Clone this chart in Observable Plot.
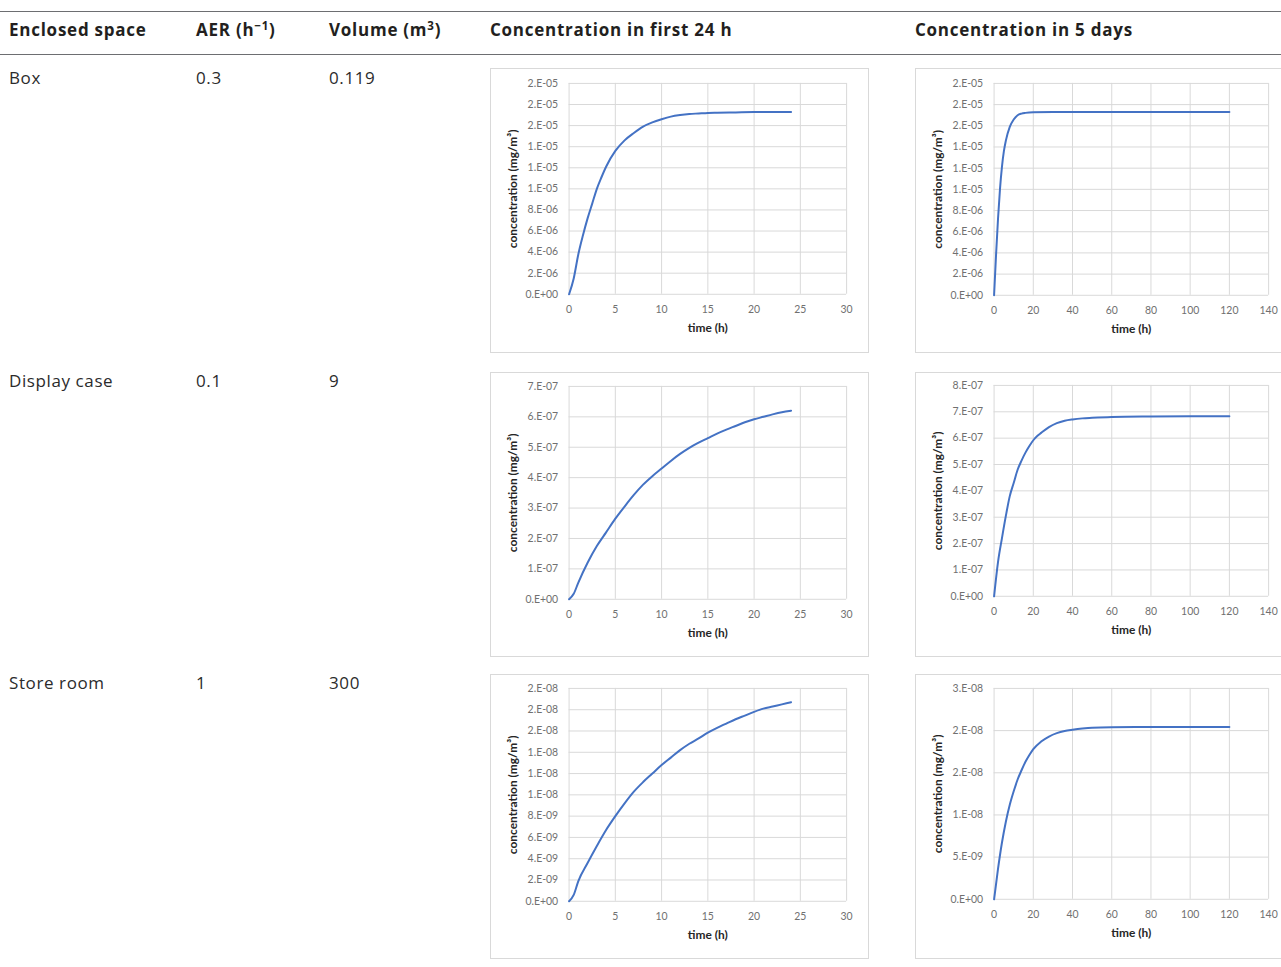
<!DOCTYPE html>
<html>
<head>
<meta charset="utf-8">
<script src="https://cdn.jsdelivr.net/npm/d3@7"></script>
<script src="https://cdn.jsdelivr.net/npm/@observablehq/plot@0.6"></script>
<style>
  html, body { margin: 0; padding: 0; background: #fff; }
  body { width: 1281px; height: 967px; overflow: hidden; position: relative; font-family: "Open Sans", sans-serif; color: #231f20; }
  .rule { position: absolute; left: 0; width: 1281px; height: 1px; background: #6d6e71; }
  .cell { position: absolute; font-size: 17px; line-height: 20px; white-space: nowrap; letter-spacing: 0.6px; color: #2b2b2b; }
  .hd { font-weight: bold; letter-spacing: 0.75px; color: #231f20; }
  sup { font-size: 0.68em; line-height: 0; vertical-align: 0.55em; }
  .chart { position: absolute; width: 377px; height: 283px; border: 1px solid #d9d9d9; overflow: visible; }
  .chart svg { position: absolute; left: -1px; top: -1px; overflow: visible; }
</style>
</head>
<body>
<div id="root"></div>
<script>
// ---------- table data ----------
const spaces = ["Box", "Display case", "Store room"];
const aer = ["0.3", "0.1", "1"];
const volume = ["0.119", "9", "300"];

// ---------- series data (time h, concentration mg/m3) ----------
// Box, first 24 h
const boxT24 = [0, 0.5, 1, 1.5, 2, 2.5, 3, 3.5, 4, 5, 6, 7, 8, 9, 10, 11, 12, 13, 14, 15, 16, 18, 20, 22, 24];
const boxC24 = [0, 1.5e-6, 3.8e-6, 5.6e-6, 7.2e-6, 8.6e-6, 1.0e-5, 1.11e-5, 1.21e-5, 1.36e-5, 1.46e-5, 1.53e-5, 1.59e-5, 1.63e-5, 1.66e-5, 1.685e-5, 1.70e-5, 1.71e-5, 1.715e-5, 1.72e-5, 1.722e-5, 1.725e-5, 1.728e-5, 1.73e-5, 1.73e-5];
// Box, 5 days
const boxT5 = [0, 1, 2, 3, 4, 5, 6, 8, 10, 12, 14, 16, 20, 30, 40, 60, 80, 100, 120];
const boxC5 = [0, 3.8e-6, 7.2e-6, 1.0e-5, 1.21e-5, 1.36e-5, 1.46e-5, 1.59e-5, 1.66e-5, 1.70e-5, 1.715e-5, 1.722e-5, 1.728e-5, 1.73e-5, 1.73e-5, 1.73e-5, 1.73e-5, 1.73e-5, 1.73e-5];
// Display case, first 24 h
const dispT24 = [0, 0.5, 1, 2, 3, 4, 5, 6, 7, 8, 9, 10, 11, 12, 13, 14, 15, 16, 17, 18, 19, 20, 21, 22, 23, 24];
const dispC24 = [0, 1.8e-8, 5.5e-8, 1.2e-7, 1.75e-7, 2.2e-7, 2.65e-7, 3.05e-7, 3.43e-7, 3.77e-7, 4.05e-7, 4.3e-7, 4.55e-7, 4.78e-7, 4.98e-7, 5.15e-7, 5.3e-7, 5.45e-7, 5.58e-7, 5.7e-7, 5.82e-7, 5.92e-7, 6.0e-7, 6.08e-7, 6.15e-7, 6.2e-7];
// Display case, 5 days
const dispT5 = [0, 2, 4, 6, 8, 10, 12, 14, 16, 18, 20, 22, 24, 28, 32, 36, 40, 45, 50, 60, 80, 100, 120];
const dispC5 = [0, 1.3e-7, 2.2e-7, 3.05e-7, 3.8e-7, 4.3e-7, 4.8e-7, 5.15e-7, 5.45e-7, 5.7e-7, 5.92e-7, 6.08e-7, 6.2e-7, 6.42e-7, 6.57e-7, 6.66e-7, 6.71e-7, 6.75e-7, 6.77e-7, 6.8e-7, 6.82e-7, 6.83e-7, 6.83e-7];
// Store room, first 24 h
const storeT24 = [0, 0.5, 1, 2, 3, 4, 5, 6, 7, 8, 9, 10, 11, 12, 13, 14, 15, 16, 17, 18, 19, 20, 21, 22, 23, 24];
const storeC24 = [0, 6e-10, 1.9e-9, 3.6e-9, 5.2e-9, 6.7e-9, 8.0e-9, 9.2e-9, 1.03e-8, 1.12e-8, 1.2e-8, 1.28e-8, 1.35e-8, 1.42e-8, 1.48e-8, 1.53e-8, 1.585e-8, 1.63e-8, 1.67e-8, 1.71e-8, 1.745e-8, 1.78e-8, 1.81e-8, 1.83e-8, 1.85e-8, 1.87e-8];
// Store room, 5 days
const storeT5 = [0, 2, 4, 6, 8, 10, 12, 14, 16, 18, 20, 24, 28, 32, 36, 40, 45, 50, 60, 80, 100, 120];
const storeC5 = [0, 3.6e-9, 6.7e-9, 9.2e-9, 1.12e-8, 1.28e-8, 1.42e-8, 1.53e-8, 1.63e-8, 1.71e-8, 1.78e-8, 1.87e-8, 1.93e-8, 1.97e-8, 1.995e-8, 2.01e-8, 2.025e-8, 2.035e-8, 2.04e-8, 2.042e-8, 2.042e-8, 2.042e-8];

// ---------- tick values and labels ----------
const xTicks24 = [0, 5, 10, 15, 20, 25, 30];
const xTicks5 = [0, 20, 40, 60, 80, 100, 120, 140];
const boxYTicks = [0, 2e-6, 4e-6, 6e-6, 8e-6, 1.0e-5, 1.2e-5, 1.4e-5, 1.6e-5, 1.8e-5, 2.0e-5];
const boxYLabels = ["0.E+00", "2.E-06", "4.E-06", "6.E-06", "8.E-06", "1.E-05", "1.E-05", "1.E-05", "2.E-05", "2.E-05", "2.E-05"];
const disp24YTicks = [0, 1e-7, 2e-7, 3e-7, 4e-7, 5e-7, 6e-7, 7e-7];
const disp24YLabels = ["0.E+00", "1.E-07", "2.E-07", "3.E-07", "4.E-07", "5.E-07", "6.E-07", "7.E-07"];
const disp5YTicks = [0, 1e-7, 2e-7, 3e-7, 4e-7, 5e-7, 6e-7, 7e-7, 8e-7];
const disp5YLabels = ["0.E+00", "1.E-07", "2.E-07", "3.E-07", "4.E-07", "5.E-07", "6.E-07", "7.E-07", "8.E-07"];
const store24YTicks = [0, 2e-9, 4e-9, 6e-9, 8e-9, 1.0e-8, 1.2e-8, 1.4e-8, 1.6e-8, 1.8e-8, 2.0e-8];
const store24YLabels = ["0.E+00", "2.E-09", "4.E-09", "6.E-09", "8.E-09", "1.E-08", "1.E-08", "1.E-08", "2.E-08", "2.E-08", "2.E-08"];
const store5YTicks = [0, 5e-9, 1.0e-8, 1.5e-8, 2.0e-8, 2.5e-8];
const store5YLabels = ["0.E+00", "5.E-09", "1.E-08", "2.E-08", "2.E-08", "3.E-08"];

const header = ["Enclosed space", "AER (h<sup>\u22121</sup>)", "Volume (m<sup>3</sup>)", "Concentration in first 24 h", "Concentration in 5 days"];
const yTitle = "concentration (mg/m\u00B3)";
const xTitle = "time (h)";

// ---------- layout ----------
const colX = [9, 196, 329, 490, 915];
const rowTop = [68, 372, 674];
const rowTextY = [68, 371, 673];

const charts = [
  {t: boxT24, c: boxC24, xt: xTicks24, yt: boxYTicks, yl: boxYLabels, row: 0, col: 3, mt: 15, mb: 58},
  {t: boxT5, c: boxC5, xt: xTicks5, yt: boxYTicks, yl: boxYLabels, row: 0, col: 4, mt: 15, mb: 57},
  {t: dispT24, c: dispC24, xt: xTicks24, yt: disp24YTicks, yl: disp24YLabels, row: 1, col: 3, mt: 14, mb: 57},
  {t: dispT5, c: dispC5, xt: xTicks5, yt: disp5YTicks, yl: disp5YLabels, row: 1, col: 4, mt: 13, mb: 60},
  {t: storeT24, c: storeC24, xt: xTicks24, yt: store24YTicks, yl: store24YLabels, row: 2, col: 3, mt: 14, mb: 57},
  {t: storeT5, c: storeC5, xt: xTicks5, yt: store5YTicks, yl: store5YLabels, row: 2, col: 4, mt: 14, mb: 59}
];

const root = document.getElementById("root");
function addDiv(cls, html, left, top) {
  const d = document.createElement("div");
  d.className = cls;
  d.innerHTML = html;
  d.style.left = left + "px";
  d.style.top = top + "px";
  root.appendChild(d);
  return d;
}
addDiv("rule", "", 0, 11);
addDiv("rule", "", 0, 54);
header.forEach((h, i) => addDiv("cell hd", h, colX[i], 20));
spaces.forEach((s, r) => {
  addDiv("cell", s, colX[0], rowTextY[r]);
  addDiv("cell", aer[r], colX[1], rowTextY[r]);
  addDiv("cell", volume[r], colX[2], rowTextY[r]);
});

charts.forEach(ch => {
  const data = ch.t.map((t, i) => ({t, c: ch.c[i]}));
  const xMax = ch.xt[ch.xt.length - 1];
  const yMax = ch.yt[ch.yt.length - 1];
  const fmt = d => ch.yl[ch.yt.indexOf(d)];
  const svg = Plot.plot({
    width: 379,
    height: 285,
    marginLeft: 79,
    marginRight: ch.col === 3 ? 21 : 24,
    marginTop: ch.mt,
    marginBottom: ch.mb,
    style: {fontFamily: "Lato, 'Open Sans', sans-serif", fontSize: "10.5px", color: "#707070", background: "transparent", overflow: "visible"},
    x: {domain: [0, xMax]},
    y: {domain: [0, yMax]},
    marks: [
      Plot.gridX(ch.xt, {stroke: "#d9d9d9", strokeOpacity: 1}),
      Plot.gridY(ch.yt, {stroke: "#d9d9d9", strokeOpacity: 1}),
      Plot.axisX(ch.xt, {tickSize: 0, tickPadding: 11, tickFormat: d => String(d), label: null}),
      Plot.axisY(ch.yt, {tickSize: 0, tickPadding: 11, tickFormat: fmt, label: null}),
      Plot.line(data, {x: "t", y: "c", stroke: "#4472C4", strokeWidth: 2, curve: "monotone-x"}),
      Plot.text([xTitle], {frameAnchor: "bottom", lineAnchor: "middle", dy: 34, fontWeight: "bold", fontSize: 12, fill: "#262626"}),
      Plot.text([yTitle], {frameAnchor: "left", textAnchor: "middle", lineAnchor: "middle", rotate: -90, dx: -56, fontWeight: "bold", fontSize: 12, fill: "#262626"})
    ]
  });
  const wrap = addDiv("chart", "", colX[ch.col], rowTop[ch.row]);
  wrap.appendChild(svg);
});
</script>
</body>
</html>
